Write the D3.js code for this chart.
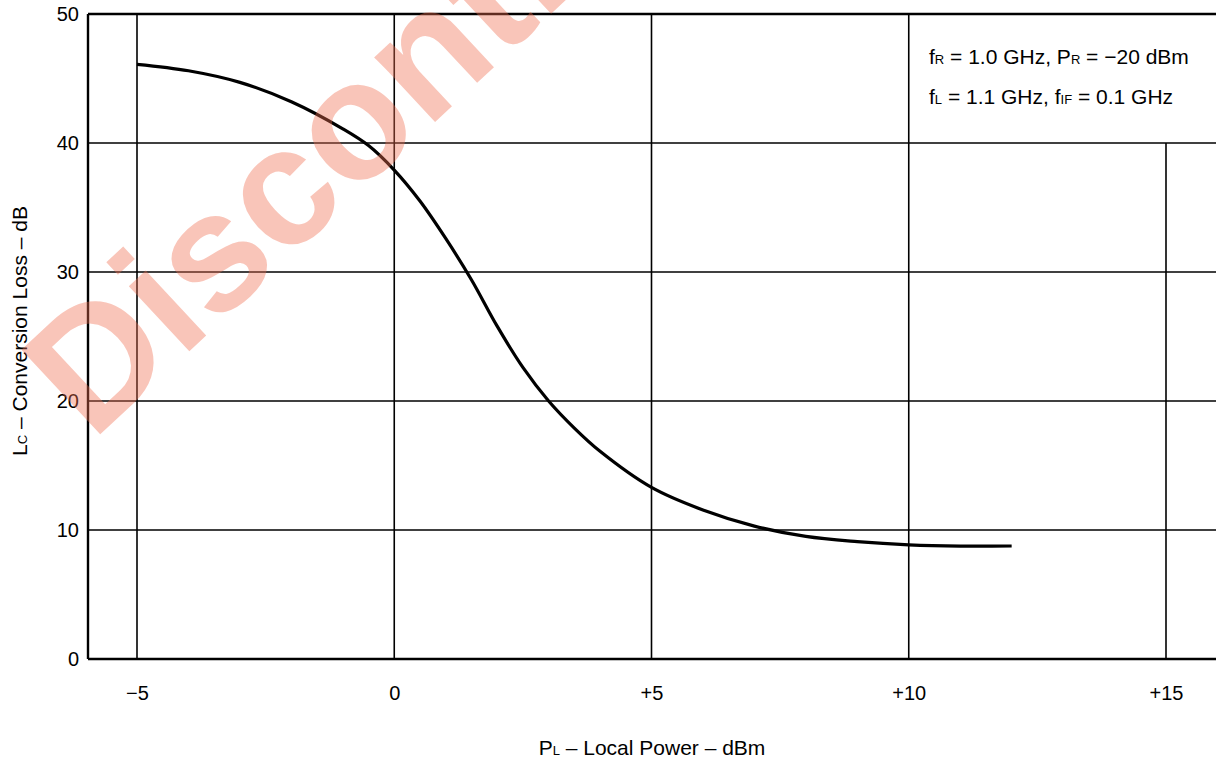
<!DOCTYPE html>
<html>
<head>
<meta charset="utf-8">
<script src="https://cdn.jsdelivr.net/npm/d3@7"></script>
<style>
  body { margin: 0; background: #fff; }
  svg { display: block; font-family: "Liberation Sans", Arial, sans-serif; }
</style>
</head>
<body>
<svg id="chart" width="1216" height="761"></svg>
<script>
// values
var powerDbm = [-5, -4, -3, -2, -1, -0.5, 0, 0.5, 1, 1.5, 2, 2.5, 3, 3.5, 4, 5, 6, 7, 8, 9, 10, 11, 12];
var lossDb = [46.1, 45.6, 44.7, 43.2, 41.1, 39.8, 37.9, 35.5, 32.6, 29.4, 25.8, 22.6, 20.0, 17.9, 16.1, 13.3, 11.55, 10.3, 9.5, 9.1, 8.85, 8.75, 8.76];
var xTicks = [-5, 0, 5, 10, 15];
var xTickLabels = ["\u22125", "0", "+5", "+10", "+15"];
var yTicks = [0, 10, 20, 30, 40, 50];

var svg = d3.select("#chart");
var plotLeft = 88, plotTop = 14, plotBottom = 659;

var x = d3.scaleLinear().domain([-5, 15]).range([137, 1166]);
var y = d3.scaleLinear().domain([0, 50]).range([plotBottom, plotTop]);
var plotRight = x(16);

var grid = svg.append("g");

// horizontal grid lines
grid.selectAll(".hline")
  .data(yTicks.filter(function (d) { return d > 0 && d < 50; }))
  .enter().append("line")
  .attr("x1", plotLeft).attr("x2", plotRight)
  .attr("y1", function (d) { return y(d); })
  .attr("y2", function (d) { return y(d); })
  .attr("stroke", "#000").attr("stroke-width", 1.6);

// vertical grid lines (the +15 one stops under the note box)
grid.selectAll(".vline")
  .data(xTicks)
  .enter().append("line")
  .attr("x1", function (d) { return x(d); })
  .attr("x2", function (d) { return x(d); })
  .attr("y1", function (d) { return d === 15 ? y(40) : plotTop; })
  .attr("y2", plotBottom)
  .attr("stroke", "#000").attr("stroke-width", 1.6);

// frame
grid.append("line").attr("x1", plotLeft).attr("x2", plotRight).attr("y1", plotTop).attr("y2", plotTop)
  .attr("stroke", "#000").attr("stroke-width", 2.4);
grid.append("line").attr("x1", plotLeft).attr("x2", plotRight).attr("y1", plotBottom).attr("y2", plotBottom)
  .attr("stroke", "#000").attr("stroke-width", 2.4);
grid.append("line").attr("x1", plotLeft).attr("x2", plotLeft).attr("y1", plotTop).attr("y2", plotBottom)
  .attr("stroke", "#000").attr("stroke-width", 2.4);

// axes (labels only)
var xAxis = d3.axisBottom(x).tickValues(xTicks).tickSize(0).tickPadding(0)
  .tickFormat(function (d, i) { return xTickLabels[i]; });
svg.append("g").attr("transform", "translate(0," + (plotBottom + 27) + ")").call(xAxis)
  .call(function (g) { g.select(".domain").remove(); })
  .selectAll("text").attr("font-size", 20).attr("fill", "#000")
  .attr("font-family", "Liberation Sans, Arial, sans-serif");

var yAxis = d3.axisLeft(y).tickValues(yTicks).tickSize(0).tickPadding(0);
svg.append("g").attr("transform", "translate(79,0)").call(yAxis)
  .call(function (g) { g.select(".domain").remove(); })
  .selectAll("text").attr("font-size", 20).attr("fill", "#000")
  .attr("font-family", "Liberation Sans, Arial, sans-serif");

// curve
var line = d3.line()
  .x(function (d, i) { return x(powerDbm[i]); })
  .y(function (d) { return y(d); })
  .curve(d3.curveCatmullRom.alpha(0.5));
svg.append("path").datum(lossDb)
  .attr("d", line)
  .attr("fill", "none").attr("stroke", "#000").attr("stroke-width", 3.2);

// axis titles
var xt = svg.append("text").attr("x", 652).attr("y", 755)
  .attr("text-anchor", "middle").attr("font-size", 21);
xt.append("tspan").text("P");
xt.append("tspan").attr("font-size", 13).text("L");
xt.append("tspan").text(" \u2013 Local Power \u2013 dBm");

var yt = svg.append("text").attr("transform", "translate(27,331) rotate(-90)")
  .attr("text-anchor", "middle").attr("font-size", 21);
yt.append("tspan").text("L");
yt.append("tspan").attr("font-size", 13).text("C");
yt.append("tspan").text(" \u2013 Conversion Loss \u2013 dB");

// note box text
var n1 = svg.append("text").attr("x", 929).attr("y", 64).attr("font-size", 21);
n1.append("tspan").text("f");
n1.append("tspan").attr("font-size", 13).text("R");
n1.append("tspan").text(" = 1.0 GHz, P");
n1.append("tspan").attr("font-size", 13).text("R");
n1.append("tspan").text(" = \u221220 dBm");

var n2 = svg.append("text").attr("x", 929).attr("y", 104).attr("font-size", 21);
n2.append("tspan").text("f");
n2.append("tspan").attr("font-size", 13).text("L");
n2.append("tspan").text(" = 1.1 GHz, f");
n2.append("tspan").attr("font-size", 13).text("IF");
n2.append("tspan").text(" = 0.1 GHz");

// watermark
svg.append("text").attr("transform", "translate(92,442) rotate(-43)")
  .attr("font-size", 168).attr("font-weight", "bold")
  .attr("fill", "rgb(240,110,80)").attr("fill-opacity", 0.4)
  .text("Discontinued");
</script>
</body>
</html>
